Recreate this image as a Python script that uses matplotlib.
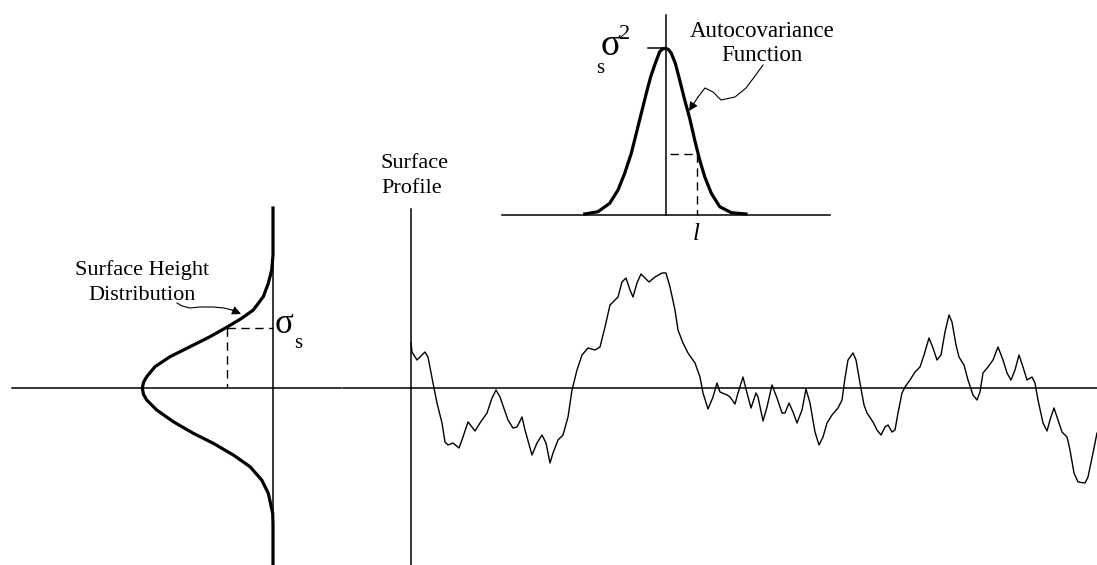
import matplotlib
matplotlib.use("Agg")
import matplotlib.pyplot as plt

# everything is in image pixel units (x right, y down)
W, H = 1097, 565

# rough surface profile
profile_x = [411, 412, 417, 420, 425, 428, 433, 437, 442, 445,
             448, 453, 459, 463, 468, 472, 475, 480, 487, 492,
             496, 500, 508, 513, 517, 522, 525, 532, 537, 542,
             546, 550, 553, 558, 563, 568, 572, 577, 582, 588,
             595, 600, 605, 610, 615, 618, 622, 626, 630, 633,
             637, 641, 645, 649, 655, 662, 666, 670, 675, 678,
             683, 688, 695, 700, 703, 708, 713, 717,
             720, 727, 730, 735, 738, 743, 747, 751, 756, 758,
             763, 767, 772, 777, 782, 785, 789, 793, 797, 802,
             806, 810, 815, 819, 823, 827, 832, 838, 842, 845,
             848, 853, 856, 860, 864, 867, 873, 877, 881, 885,
             888, 892, 895, 898, 902, 905, 910, 915, 920, 924,
             929, 933, 937, 941, 945, 949, 952, 956, 959, 964,
             968, 973, 977, 980, 983, 988, 993, 998, 1003, 1007,
             1011, 1015, 1019, 1023, 1027, 1032, 1035, 1038, 1043, 1047,
             1050, 1054, 1057, 1062, 1067, 1070, 1074, 1078, 1085, 1088,
             1093, 1097]
profile_y = [343, 352, 360, 357, 352, 357, 383, 403, 423, 442,
             445, 443, 448, 437, 422, 427, 431, 423, 413, 398,
             390, 397, 420, 428, 427, 417, 430, 455, 443, 435,
             443, 463, 453, 440, 435, 417, 390, 370, 355, 348,
             350, 347, 327, 305, 300, 297, 282, 278, 290, 297,
             283, 274, 278, 282, 277, 273, 273, 287, 310, 330,
             343, 353, 363, 377, 393, 409, 397, 383,
             392, 395, 397, 404, 393, 377, 393, 408, 393, 397,
             421, 407, 385, 398, 413, 413, 403, 412, 423, 410,
             389, 403, 432, 445, 437, 423, 415, 408, 400, 378,
             360, 353, 360, 383, 405, 413, 422, 430, 435, 427,
             425, 432, 430, 413, 393, 387, 380, 372, 367, 355,
             338, 348, 360, 355, 332, 315, 322, 345, 357, 365,
             380, 395, 400, 392, 373, 367, 360, 347, 360, 373,
             380, 370, 355, 367, 380, 377, 383, 400, 423, 431,
             420, 408, 417, 432, 437, 450, 473, 482, 483, 477,
             453, 433]

# height distribution curve (sideways bell)
hd_x = [273, 273, 271.7, 268.3, 263.3, 253.3, 241.7, 226.7, 210, 190,
        170, 155, 146.7, 143.5, 142.3, 143.5, 146.7, 156.7, 173.3, 193.3,
        213.3, 233.3, 250, 261.7, 268.3, 272.7, 273, 273]
hd_y = [208, 255, 270, 283.3, 296.7, 310, 318.3, 327.3, 336.7, 346.7,
        356.7, 366.7, 376.7, 382.3, 388.3, 394.3, 400, 410, 421.7, 433.3,
        443.3, 455, 466.7, 480, 493.3, 513.3, 525, 565]

# autocovariance curve
ac_x = [584.7, 598, 609.7, 618, 624.7, 631.3, 636.3, 641.3, 646.3, 650.7,
        655.3, 659.7, 662.5, 665.3, 668.5, 671.3, 675.3, 679.7, 684.7, 689.7,
        694.7, 699.7, 704.7, 711.3, 719.7, 731.3, 746]
ac_y = [214, 211.7, 203.3, 190, 173.3, 153.3, 133.3, 113.3, 93.3, 76.7,
        63.3, 51.7, 49, 48.3, 49.5, 53.3, 63.3, 80, 100, 118.3,
        140, 160, 176.7, 193.3, 206.7, 212.7, 214]

# wavy leader lines for the two labels
hd_leader_x = [177, 182, 190, 200, 213, 224, 232]
hd_leader_y = [303, 306, 308, 307, 307, 308, 310]
ac_leader_x = [763, 755, 746, 735, 721, 713, 705, 698]
ac_leader_y = [65, 76, 88, 97, 100, 92, 88, 97]

FONT = "Liberation Serif"
thin = 1.1
thick = 2.3

fig = plt.figure(figsize=(W / 100, H / 100), dpi=100)
ax = fig.add_axes([0, 0, 1, 1])
ax.set_xlim(0, W)
ax.set_ylim(H, 0)
ax.axis("off")

# axes lines
ax.plot([12, 341], [388, 388], color="k", lw=thin)
ax.plot([343, 1097], [388, 388], color="k", lw=thin)
ax.plot([273, 273], [208, 565], color="k", lw=thin)
ax.plot([411, 411], [209, 565], color="k", lw=thin)
ax.plot([502, 830], [215, 215], color="k", lw=thin)
ax.plot([666, 666], [15, 215], color="k", lw=thin)
ax.plot([648, 666], [48, 48], color="k", lw=thin)

# curves
ax.plot(profile_x, profile_y, color="k", lw=1.0, solid_joinstyle="round")
ax.plot(hd_x, hd_y, color="k", lw=thick, solid_joinstyle="round")
ax.plot(ac_x, ac_y, color="k", lw=thick, solid_joinstyle="round")

# dashed guides
dash = dict(color="k", lw=1.0, dashes=(6, 4))
ax.plot([227, 273], [328, 328], **dash)
ax.plot([227, 227], [328, 388], **dash)
ax.plot([670, 697], [154, 154], **dash)
ax.plot([697, 697], [154, 215], **dash)

# leaders with arrow heads
ax.plot(hd_leader_x, hd_leader_y, color="k", lw=0.8)
ax.annotate("", xy=(241, 314), xytext=(hd_leader_x[-1], hd_leader_y[-1]),
            arrowprops=dict(arrowstyle="-|>", color="k", lw=0.8,
                            mutation_scale=13, shrinkA=0, shrinkB=0))
ax.plot(ac_leader_x, ac_leader_y, color="k", lw=0.8)
ax.annotate("", xy=(689, 111), xytext=(ac_leader_x[-1], ac_leader_y[-1]),
            arrowprops=dict(arrowstyle="-|>", color="k", lw=0.8,
                            mutation_scale=13, shrinkA=0, shrinkB=0))

# labels
txt = dict(family=FONT, fontsize=16, color="k", va="baseline")
ax.text(142, 275, "Surface Height", ha="center", **txt)
ax.text(142, 300, "Distribution", ha="center", **txt)
ax.text(762, 37, "Autocovariance", ha="center", fontsize=16.5,
        family=FONT, va="baseline")
ax.text(762, 61, "Function", ha="center", fontsize=16.5,
        family=FONT, va="baseline")
ax.text(381, 168, "Surface", ha="left", **txt)
ax.text(381, 193, "Profile", ha="left", **txt)

ax.text(601, 55, "σ", family=FONT, fontsize=27, va="baseline", ha="left")
ax.text(619, 39, "2", family=FONT, fontsize=16, va="baseline", ha="left")
ax.text(596, 73, "s", family=FONT, fontsize=15, va="baseline", ha="left")
ax.text(275, 333, "σ", family=FONT, fontsize=25, va="baseline", ha="left")
ax.text(294, 348, "s", family=FONT, fontsize=15, va="baseline", ha="left")
ax.text(693, 240, "l", family=FONT, fontsize=18, style="italic",
        va="baseline", ha="left")

fig.savefig("out.png", dpi=100)
